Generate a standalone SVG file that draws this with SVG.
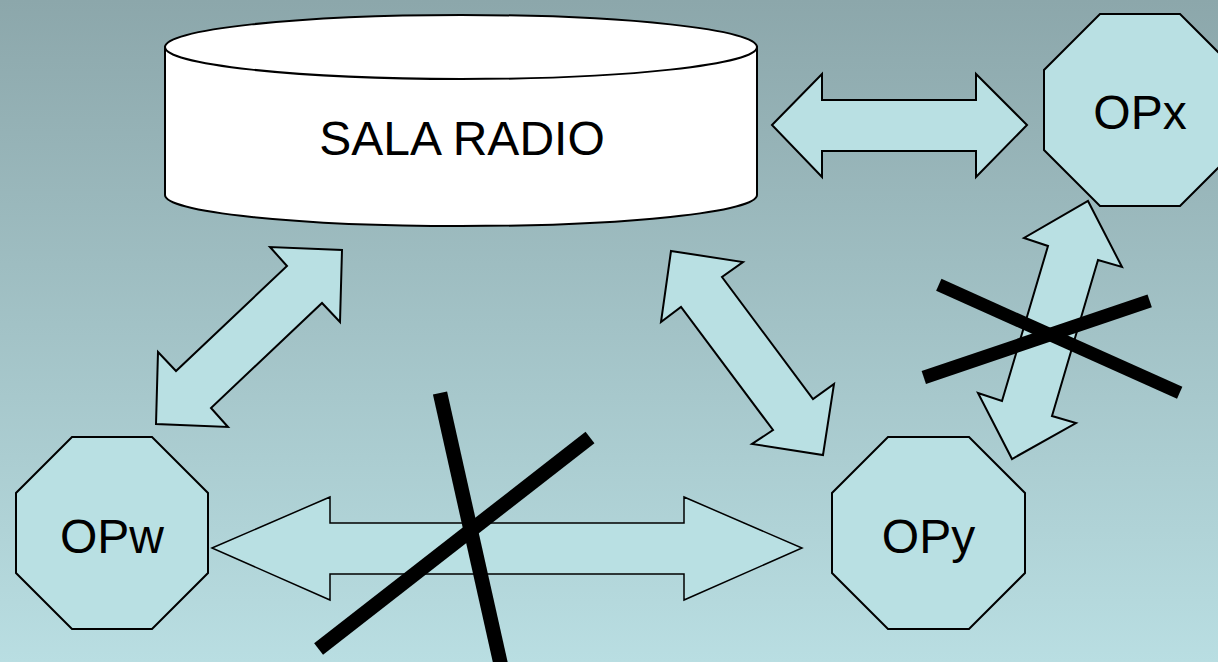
<svg xmlns="http://www.w3.org/2000/svg" width="1218" height="662" viewBox="0 0 1218 662">
  <defs>
    <linearGradient id="bg" x1="0" y1="0" x2="0" y2="1">
      <stop offset="0" stop-color="#8ca7ab"/>
      <stop offset="1" stop-color="#b9dee2"/>
    </linearGradient>
  </defs>
  <style>
    .shape { fill: #b9e0e3; stroke: #000; stroke-width: 2; stroke-linejoin: miter; }
    .arrow { fill: #b9e0e3; stroke: #000; stroke-width: 2; stroke-linejoin: miter; }
    .thin { stroke-width: 1.5; }
    .cyl { fill: #fff; stroke: #000; stroke-width: 2; }
    .label { font-family: "Liberation Sans", Arial, sans-serif; font-size: 48px; fill: #000; text-anchor: middle; }
    .cross { stroke: #000; stroke-linecap: butt; fill: none; }
  </style>
  <rect x="0" y="0" width="1218" height="662" fill="url(#bg)"/>

  <g id="connectors">
    <polygon class="arrow" points="772,125 822,74 822,100 976,100 976,74 1027,125 976,177 976,151 822,151 822,177"/>
    <polygon class="arrow" points="342,250 340,322 322,303 211,408 228,427 156,424 158,352 176,371 287,266 270,247"/>
    <polygon class="arrow" points="671,251 743,262 722,277 813,399 834,384 823,455 752,444 773,430 681,307 661,322"/>
    <polygon class="arrow" points="1088,201 1122,267 1098,260 1052,416 1076,423 1012,459 978,393 1002,401 1048,246 1024,238"/>
    <polygon class="arrow thin" points="212,548 330,497 330,523 684,523 684,497 802,548 684,600 684,574 330,574 330,600"/>
  </g>

  <g id="crosses">
    <line class="cross" stroke-width="14.5" x1="440" y1="393" x2="502" y2="670"/>
    <line class="cross" stroke-width="14.5" x1="318.6" y1="649" x2="590" y2="437.5"/>
    <line class="cross" stroke-width="13" x1="938.8" y1="284.8" x2="1179.7" y2="392.8"/>
    <line class="cross" stroke-width="13.5" x1="923.8" y1="377.5" x2="1149.7" y2="300.8"/>
  </g>

  <g id="sala-radio">
    <path class="cyl" d="M165,47 L165,195 A296,31 0 0 0 757,195 L757,47 Z"/>
    <ellipse class="cyl" cx="461" cy="47" rx="296" ry="32"/>
    <text class="label" x="462" y="155">SALA RADIO</text>
  </g>

  <g id="opx">
    <polygon class="shape" points="1100,14 1180,14 1236,70 1236,150 1180,206 1100,206 1044,150 1044,70"/>
    <text class="label" x="1140" y="129">OPx</text>
  </g>

  <g id="opw">
    <polygon class="shape" points="72,437 152,437 208,493 208,573 152,629 72,629 16,573 16,493"/>
    <text class="label" x="112" y="553">OPw</text>
  </g>

  <g id="opy">
    <polygon class="shape" points="888,437 969,437 1025,493 1025,573 969,629 888,629 832,573 832,493"/>
    <text class="label" x="928.5" y="553">OPy</text>
  </g>
</svg>
